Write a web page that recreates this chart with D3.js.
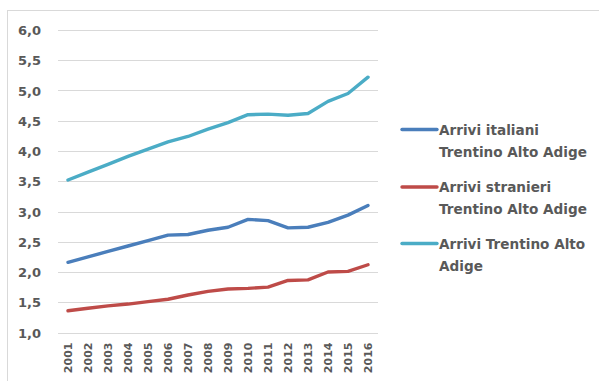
<!DOCTYPE html>
<html>
<head>
<meta charset="utf-8">
<script src="https://cdn.jsdelivr.net/npm/d3@7"></script>
<style>
  html, body { margin: 0; padding: 0; background: #fff; }
  svg { display: block; }
  text { font-family: "DejaVu Sans", sans-serif; font-weight: bold; fill: #595959; }
</style>
</head>
<body>
<svg id="chart" width="599" height="381"></svg>
<script>
// Arrivi (milioni) per anno
const years = ["2001","2002","2003","2004","2005","2006","2007","2008","2009","2010","2011","2012","2013","2014","2015","2016"];
const arriviItaliani = [2.16, 2.25, 2.34, 2.43, 2.52, 2.61, 2.62, 2.69, 2.74, 2.87, 2.85, 2.73, 2.74, 2.82, 2.94, 3.10];
const arriviStranieri = [1.36, 1.40, 1.44, 1.47, 1.51, 1.55, 1.62, 1.68, 1.72, 1.73, 1.75, 1.86, 1.87, 2.00, 2.01, 2.12];
const arriviTotali = [3.52, 3.65, 3.78, 3.91, 4.03, 4.15, 4.24, 4.36, 4.47, 4.60, 4.61, 4.59, 4.62, 4.82, 4.95, 5.22];
const yTicks = [1.0, 1.5, 2.0, 2.5, 3.0, 3.5, 4.0, 4.5, 5.0, 5.5, 6.0];
const seriesNames = [
  ["Arrivi italiani", "Trentino Alto Adige"],
  ["Arrivi stranieri", "Trentino Alto Adige"],
  ["Arrivi Trentino Alto", "Adige"]
];
const seriesColors = ["#4A7EBB", "#BE4B48", "#4BACC6"];

const series = [arriviItaliani, arriviStranieri, arriviTotali].map((vals, i) => ({
  name: seriesNames[i], color: seriesColors[i], values: vals
}));

const svg = d3.select("#chart");

// outer chart frame
svg.append("rect")
  .attr("x", 7.5).attr("y", 10.5)
  .attr("width", 620).attr("height", 400)
  .attr("fill", "none").attr("stroke", "#D9D9D9").attr("stroke-width", 1);

const plot = { left: 58, right: 378, top: 30, bottom: 332.5 };

const x = d3.scaleBand().domain(years).range([plot.left, plot.right]).padding(0);
const y = d3.scaleLinear().domain([1, 6]).range([plot.bottom, plot.top]);

// horizontal gridlines
svg.append("g")
  .selectAll("line")
  .data(yTicks)
  .join("line")
  .attr("x1", plot.left).attr("x2", plot.right)
  .attr("y1", d => Math.round(y(d)) + 0.5).attr("y2", d => Math.round(y(d)) + 0.5)
  .attr("stroke", "#D9D9D9").attr("stroke-width", 1.2);

// y axis labels
const fmt = d => d3.format(".1f")(d).replace(".", ",");
const yAxis = d3.axisLeft(y).tickValues(yTicks).tickFormat(fmt).tickSize(0).tickPadding(0);
const gy = svg.append("g").attr("transform", "translate(41,0)").call(yAxis);
gy.select(".domain").remove();
gy.selectAll("text")
  .attr("font-family", "DejaVu Sans").attr("font-weight", "bold")
  .attr("font-size", 13).attr("fill", "#595959")
  .attr("dy", "0.36em");

// x axis labels (rotated)
const xAxis = d3.axisBottom(x).tickSize(0).tickPadding(0);
const gx = svg.append("g").attr("transform", `translate(0,${plot.bottom})`).call(xAxis);
gx.select(".domain").remove();
gx.selectAll("text")
  .attr("font-family", "DejaVu Sans").attr("font-weight", "bold")
  .attr("font-size", 11).attr("fill", "#595959")
  .attr("text-anchor", "end")
  .attr("transform", "rotate(-90)")
  .attr("x", -10).attr("y", 0).attr("dy", "0.36em");

// series lines
const line = d3.line()
  .x((d, i) => x(years[i]) + x.bandwidth() / 2)
  .y(d => y(d));

svg.append("g")
  .selectAll("path")
  .data(series)
  .join("path")
  .attr("d", d => line(d.values))
  .attr("fill", "none")
  .attr("stroke", d => d.color)
  .attr("stroke-width", 3.4)
  .attr("stroke-linejoin", "round")
  .attr("stroke-linecap", "round");

// legend
const legendY = [129.5, 187, 243.5];
const legend = svg.append("g")
  .selectAll("g")
  .data(series)
  .join("g")
  .attr("transform", (d, i) => `translate(402,${legendY[i]})`);

legend.append("line")
  .attr("x1", 0).attr("x2", 35)
  .attr("y1", 0).attr("y2", 0)
  .attr("stroke", d => d.color).attr("stroke-width", 3.4)
  .attr("stroke-linecap", "round");

legend.append("text")
  .attr("x", 37)
  .attr("font-size", 13.6)
  .selectAll("tspan")
  .data(d => d.name)
  .join("tspan")
  .attr("x", 37)
  .attr("y", (d, i) => 5 + i * 22)
  .text(d => d);
</script>
</body>
</html>
